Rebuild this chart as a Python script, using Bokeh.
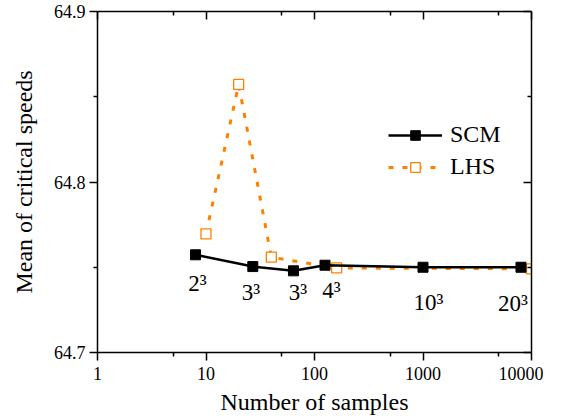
from bokeh.plotting import figure
from bokeh.models import (Range1d, FixedTicker, PrintfTickFormatter, LinearAxis, LogAxis,
                          Legend, LegendItem, ColumnDataSource)
from bokeh.core.properties import value
from bokeh.embed import file_html
from bokeh.resources import INLINE

# ---- data ----
scm_n = [8, 27, 64, 125, 1000, 8000]
scm_mean = [64.7573, 64.7504, 64.7479, 64.7512, 64.7500, 64.7500]
lhs_n = [10, 20, 40, 160, 10000]
lhs_mean = [64.7696, 64.8572, 64.7559, 64.7496, 64.7491]
point_labels = ["2³", "3³", "3³", "4³", "10³", "20³"]
label_x = [8.35, 26.0, 70.5, 143.5, 1123.0, 6750.0]
label_y = [64.7405, 64.7352, 64.7352, 64.7364, 64.7293, 64.7287]
x_ticks = [1, 10, 100, 1000, 10000]
x_minor = [5, 50, 500, 5000]
y_ticks = [64.7, 64.8, 64.9]
y_minor = [64.75, 64.85]
x_title = "Number of samples"
y_title = "Mean of critical speeds"

FONT = "'Liberation Serif', 'Times New Roman', serif"
ORANGE = "#FF8000"

p = figure(x_axis_type="log", output_backend="svg", toolbar_location=None,
           frame_width=434, frame_height=341,
           x_range=Range1d(1, 10000), y_range=Range1d(64.7, 64.9),
           min_border_left=97, min_border_top=11, min_border_right=12, min_border_bottom=0)
p.outline_line_color = None
p.xgrid.visible = False
p.ygrid.visible = False
p.background_fill_color = "white"
p.border_fill_color = "white"

def style_axis(ax, ticks, minor, fmt, show_labels, inward):
    ax.ticker = FixedTicker(ticks=ticks, minor_ticks=minor)
    ax.axis_line_width = 1.5
    ax.axis_line_color = "black"
    ax.major_tick_line_width = 1.5
    ax.minor_tick_line_width = 1.5
    ax.major_tick_line_color = "black"
    ax.minor_tick_line_color = "black"
    if inward:
        ax.major_tick_in = 8
        ax.major_tick_out = 0
        ax.minor_tick_in = 4
        ax.minor_tick_out = 0
    else:
        ax.major_tick_in = 0
        ax.major_tick_out = 8
        ax.minor_tick_in = 0
        ax.minor_tick_out = 4
    ax.major_label_text_font = FONT
    ax.major_label_text_color = "black"
    if show_labels:
        ax.formatter = PrintfTickFormatter(format=fmt)
        ax.major_label_text_font_size = "18px"
        ax.major_label_standoff = 6
    else:
        ax.major_label_overrides = {t: "" for t in ticks}
        ax.major_label_text_font_size = "1px"
        ax.major_label_standoff = 0
    ax.axis_label_text_font = FONT
    ax.axis_label_text_font_size = "24px"
    ax.axis_label_text_font_style = "normal"
    ax.axis_label_text_color = "black"

xa = p.xaxis[0]
ya = p.yaxis[0]
style_axis(xa, x_ticks, x_minor, "%d", True, False)
style_axis(ya, y_ticks, y_minor, "%.1f", True, False)
ya.major_label_standoff = 4
xa.axis_label = x_title
ya.axis_label = y_title
xa.axis_label_standoff = 6
ya.axis_label_standoff = 14

top = LogAxis()
style_axis(top, x_ticks, x_minor, "%d", False, True)
p.add_layout(top, "above")
right = LinearAxis()
style_axis(right, y_ticks, y_minor, "%.1f", False, True)
p.add_layout(right, "right")

scm_src = ColumnDataSource(dict(x=scm_n, y=scm_mean))
lhs_src = ColumnDataSource(dict(x=lhs_n, y=lhs_mean))

lhs_line = p.line("x", "y", source=lhs_src, line_color=ORANGE, line_width=3, line_dash="5 9")
lhs_pts = p.scatter("x", "y", source=lhs_src, marker="square", size=10,
                    fill_color="white", line_color=ORANGE, line_width=1.3)
scm_line = p.line("x", "y", source=scm_src, line_color="black", line_width=2.5)
scm_pts = p.scatter("x", "y", source=scm_src, marker="square", size=10,
                    fill_color="black", line_color="black")

lab_src = ColumnDataSource(dict(x=label_x, y=label_y, t=point_labels))
p.text("x", "y", text="t", source=lab_src, text_font=value(FONT), text_font_size="23px",
       text_align="center", text_baseline="alphabetic", text_color="black")

legend = Legend(items=[LegendItem(label="SCM", renderers=[scm_line, scm_pts]),
                       LegendItem(label="LHS", renderers=[lhs_line, lhs_pts])],
                location=(291, 172), orientation="vertical")
legend.label_text_font = FONT
legend.label_text_font_size = "24px"
legend.label_text_color = "black"
legend.glyph_width = 54
legend.glyph_height = 24
legend.label_height = 24
legend.label_standoff = 8
legend.spacing = 5
legend.padding = 0
legend.margin = 0
legend.border_line_color = None
legend.background_fill_alpha = 0
p.add_layout(legend, "center")

open("out.html", "w").write(file_html(p, INLINE))
